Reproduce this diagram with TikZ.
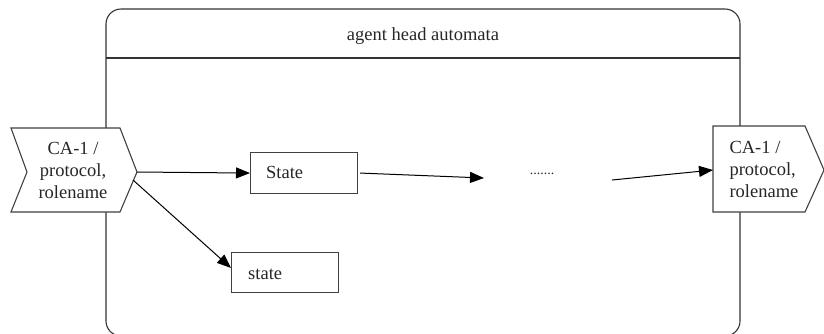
\documentclass[tikz,border=0pt]{standalone}
\usepackage{fontspec}
\setmainfont{Liberation Serif}
\usetikzlibrary{arrows.meta}
\begin{document}
\begin{tikzpicture}[x=1pt,y=-1pt,
  every node/.style={font=\fontsize{18.5}{22}\selectfont, text=black!85},
  outline/.style={draw=black!80, line width=1.1pt},
  boxstyle/.style={draw=black!75, line width=1.1pt, fill=white},
  conn/.style={draw=black, line width=1pt, -{Triangle[length=14pt,width=11pt]}},
]
\useasboundingbox (0,0) rectangle (824,333);
% container
\draw[outline, rounded corners=15pt] (106,9) rectangle (740,336);
\draw[outline] (106,58) -- (740,58);
\node (title) at (423,36) {agent head automata};
% left chevron
\draw[boxstyle] (11,128) -- (120,128) -- (137,172) -- (120,212) -- (11,212) -- (27,172) -- cycle;
\node[align=center] (src) at (73,170) {CA-1 /\\protocol,\\rolename};
\coordinate (srctip) at (137,172);
\coordinate (srclow) at (133,180);
% right shape
\draw[boxstyle] (713,126) -- (805,126) -- (824,170) -- (805,212) -- (713,212) -- cycle;
\node[align=left, anchor=west] (dst) at (726,169) {CA-1 /\\protocol,\\rolename};
\coordinate (dstin) at (713,170);
% state boxes
\node[boxstyle, minimum width=107pt, minimum height=41pt, anchor=north west, inner sep=0pt] (S1) at (250,152) {};
\node[anchor=base west, inner sep=0pt] (S1t) at (266,178) {State};
\node[boxstyle, minimum width=107pt, minimum height=40pt, anchor=north west, inner sep=0pt] (S2) at (231,252) {};
\node[anchor=base west, inner sep=0pt] (S2t) at (248,279) {state};
\coordinate (S2in) at (231,268);
% dots
\node[font=\fontsize{14}{16}\selectfont] (dots) at (542,174) {.......};
\coordinate (midend) at (484,178);
\coordinate (midstart) at (612,180);
% connectors
\draw[conn] (srctip) -- (S1.west);
\draw[conn] ([xshift=2pt]S1.east) -- (midend);
\draw[conn] (midstart) -- (dstin);
\draw[conn] (srclow) -- (S2in);
\end{tikzpicture}
\end{document}
